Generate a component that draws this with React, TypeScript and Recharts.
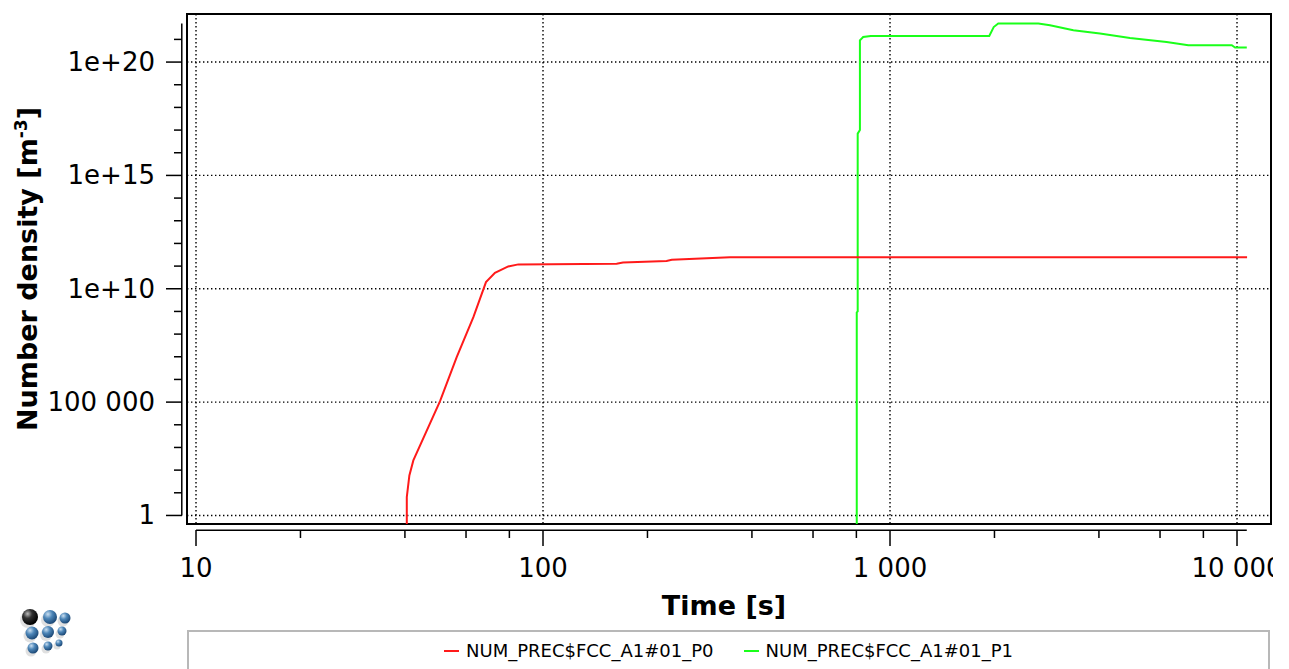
import {
  LineChart,
  Line,
  XAxis,
  YAxis,
  CartesianGrid,
  ReferenceArea,
  ReferenceLine,
} from "recharts";

// NUM_PREC$FCC_A1#01_P0 (red)
const p0Time = [40.5, 40.5, 41.2, 42.3, 50.5, 56.4, 63.0, 68.5, 72.7, 79.4, 84.9, 163, 170, 227, 235, 346, 10690];
const p0Density = [1e-3, 6.4, 58, 267, 1.1e5, 9.7e6, 5.6e8, 1.98e10, 5.1e10, 9.7e10, 1.19e11, 1.28e11, 1.45e11, 1.67e11, 1.9e11, 2.43e11, 2.43e11];

// NUM_PREC$FCC_A1#01_P1 (green)
const p1Time = [802, 802, 807, 807, 819, 819, 837, 880, 1932, 1990, 2051, 2676, 2891, 3376, 4027, 4916, 6266, 7240, 9660, 9870, 10670];
const p1Density = [1e-3, 9.1e8, 1e9, 7e16, 1e17, 9.1e20, 1.28e21, 1.42e21, 1.42e21, 3.5e21, 5e21, 5e21, 4.2e21, 2.53e21, 1.82e21, 1.15e21, 7.7e20, 5.5e20, 5.5e20, 4.4e20, 4.4e20];

const seriesNames = ["NUM_PREC$FCC_A1#01_P0", "NUM_PREC$FCC_A1#01_P1"];
const seriesColors = ["#ff1a1a", "#1aff1a"];

const xMajorTicks = [10, 100, 1000, 10000];
const xMajorLabels = ["10", "100", "1 000", "10 000"];
const xMinorTicks = [20, 40, 60, 80, 200, 400, 600, 800, 2000, 4000, 6000, 8000];

const yMajorTicks = [1, 1e5, 1e10, 1e15, 1e20];
const yMajorLabels = ["1", "100 000", "1e+10", "1e+15", "1e+20"];
const yMinorTicks = [10, 100, 1000, 1e4, 1e6, 1e7, 1e8, 1e9, 1e11, 1e12, 1e13, 1e14, 1e16, 1e17, 1e18, 1e19, 1e21];

const xDomain = [9.42, 12530];
const yDomain = [0.42, 1.32e22];
// the axes are drawn detached from the plot frame
const xAxisSpan = [10, 10670];
const yAxisSpan = [1, 5e21];
const yAxisLineAt = 9.1;
const xAxisLineAt = 0.22;

const FONT = "'DejaVu Sans', sans-serif";

const p0 = p0Time.map((t, i) => ({ t, v: p0Density[i] }));
const p1 = p1Time.map((t, i) => ({ t, v: p1Density[i] }));

function XTick({ x, y, payload }: any) {
  const i = xMajorTicks.indexOf(payload.value);
  const len = i >= 0 ? 16 : 8;
  return (
    <g>
      <line x1={x} x2={x} y1={y + 6} y2={y + 6 + len} stroke="#000" strokeWidth={1.5} />
      {i >= 0 && (
        <text x={x} y={y + 53} textAnchor="middle" fontSize={26} fontFamily={FONT} fill="#000">
          {xMajorLabels[i]}
        </text>
      )}
    </g>
  );
}

function YTick({ x, y, payload }: any) {
  const i = yMajorTicks.indexOf(payload.value);
  const len = i >= 0 ? 16 : 8;
  return (
    <g>
      <line x1={x - 5} x2={x - 5 - len} y1={y} y2={y} stroke="#000" strokeWidth={1.5} />
      {i >= 0 && (
        <text x={x - 32} y={y + 9} textAnchor="end" fontSize={26} fontFamily={FONT} fill="#000">
          {yMajorLabels[i]}
        </text>
      )}
    </g>
  );
}

function XTitle({ viewBox }: any) {
  return (
    <text
      x={viewBox.x + viewBox.width / 2 - 5}
      y={viewBox.y + 91}
      textAnchor="middle"
      fontSize={27}
      fontWeight="bold"
      fontFamily={FONT}
      fill="#000"
    >
      Time [s]
    </text>
  );
}

function YTitle({ viewBox }: any) {
  const cx = viewBox.x + 37;
  const cy = viewBox.y + viewBox.height / 2;
  return (
    <text
      x={cx}
      y={cy}
      transform={`rotate(-90 ${cx} ${cy})`}
      textAnchor="middle"
      fontSize={27}
      fontWeight="bold"
      fontFamily={FONT}
      fill="#000"
    >
      Number density [m
      <tspan dy={-10} fontSize={17}>-3</tspan>
      <tspan dy={10}>]</tspan>
    </text>
  );
}

function Logo() {
  const balls = [
    [30, 617, 8, true],
    [50, 617, 7, false],
    [65, 618, 5.5, false],
    [32, 633, 6.5, false],
    [48, 632, 6, false],
    [62, 631, 4.5, false],
    [33, 648, 5.5, false],
    [48, 646, 4.5, false],
    [59, 643, 3.5, false],
  ] as const;
  return (
    <svg width={90} height={80} style={{ position: "absolute", left: 0, top: 590 }} viewBox="0 590 90 80">
      <defs>
        <radialGradient id="blueBall" cx="35%" cy="30%" r="70%">
          <stop offset="0%" stopColor="#c9def0" />
          <stop offset="45%" stopColor="#4d86b8" />
          <stop offset="100%" stopColor="#1d4a78" />
        </radialGradient>
        <radialGradient id="darkBall" cx="35%" cy="30%" r="70%">
          <stop offset="0%" stopColor="#bbbbbb" />
          <stop offset="40%" stopColor="#333333" />
          <stop offset="100%" stopColor="#000000" />
        </radialGradient>
      </defs>
      {balls.map(([cx, cy, r, dark], i) => (
        <g key={i}>
          <circle cx={cx - 2} cy={cy + 3} r={r} fill="#000" opacity={0.12} />
          <circle cx={cx} cy={cy} r={r} fill={dark ? "url(#darkBall)" : "url(#blueBall)"} />
        </g>
      ))}
    </svg>
  );
}

export default function App() {
  return (
    <div style={{ position: "absolute", left: 0, top: 0, width: 1289, height: 669, background: "#fff", overflow: "hidden" }}>
      <LineChart width={1273} height={669} margin={{ top: 14, right: 2, bottom: 0, left: 0 }}>
        <CartesianGrid
          stroke="#000"
          strokeWidth={1.4}
          strokeDasharray="1.4 2.6"
          horizontalValues={yMajorTicks}
          verticalValues={xMajorTicks}
        />
        <XAxis
          dataKey="t"
          type="number"
          scale="log"
          domain={xDomain}
          allowDataOverflow
          ticks={[...xMajorTicks, ...xMinorTicks].sort((a, b) => a - b)}
          interval={0}
          height={145}
          axisLine={false}
          tickLine={false}
          tickSize={0}
          tickMargin={0}
          tick={XTick}
          label={{ content: XTitle }}
        />
        <YAxis
          type="number"
          scale="log"
          domain={yDomain}
          allowDataOverflow
          ticks={[...yMajorTicks, ...yMinorTicks].sort((a, b) => a - b)}
          interval={0}
          width={187}
          axisLine={false}
          tickLine={false}
          tickSize={0}
          tickMargin={0}
          tick={YTick}
          label={{ content: YTitle }}
        />
        <ReferenceArea
          x1={xDomain[0]}
          x2={xDomain[1]}
          y1={yDomain[0]}
          y2={yDomain[1]}
          fill="#fff"
          fillOpacity={0}
          stroke="#000"
          strokeWidth={2}
          strokeOpacity={1}
          ifOverflow="visible"
        />
        <ReferenceLine
          segment={[
            { x: xAxisSpan[0], y: xAxisLineAt },
            { x: xAxisSpan[1], y: xAxisLineAt },
          ]}
          stroke="#000"
          strokeWidth={1.5}
          ifOverflow="visible"
        />
        <ReferenceLine
          segment={[
            { x: yAxisLineAt, y: yAxisSpan[0] },
            { x: yAxisLineAt, y: yAxisSpan[1] },
          ]}
          stroke="#000"
          strokeWidth={1.5}
          ifOverflow="visible"
        />
        <Line
          data={p1}
          dataKey="v"
          name={seriesNames[1]}
          type="linear"
          stroke={seriesColors[1]}
          strokeWidth={2}
          dot={false}
          isAnimationActive={false}
        />
        <Line
          data={p0}
          dataKey="v"
          name={seriesNames[0]}
          type="linear"
          stroke={seriesColors[0]}
          strokeWidth={2}
          dot={false}
          isAnimationActive={false}
        />
      </LineChart>
      <Logo />
      <div
        style={{
          position: "absolute",
          left: 187,
          top: 630,
          width: 1083,
          height: 60,
          border: "2px solid #b8b8b8",
          display: "flex",
          justifyContent: "center",
          alignItems: "flex-start",
          paddingTop: 8,
          boxSizing: "border-box",
          fontFamily: FONT,
          fontSize: 18,
          lineHeight: "22px",
          color: "#000",
        }}
      >
        {seriesNames.map((name, i) => (
          <div key={name} style={{ display: "flex", alignItems: "center", marginLeft: i ? 30 : 0 }}>
            <span style={{ display: "inline-block", width: 15, height: 2, background: seriesColors[i], marginRight: 7 }} />
            <span>{name}</span>
          </div>
        ))}
      </div>
    </div>
  );
}
